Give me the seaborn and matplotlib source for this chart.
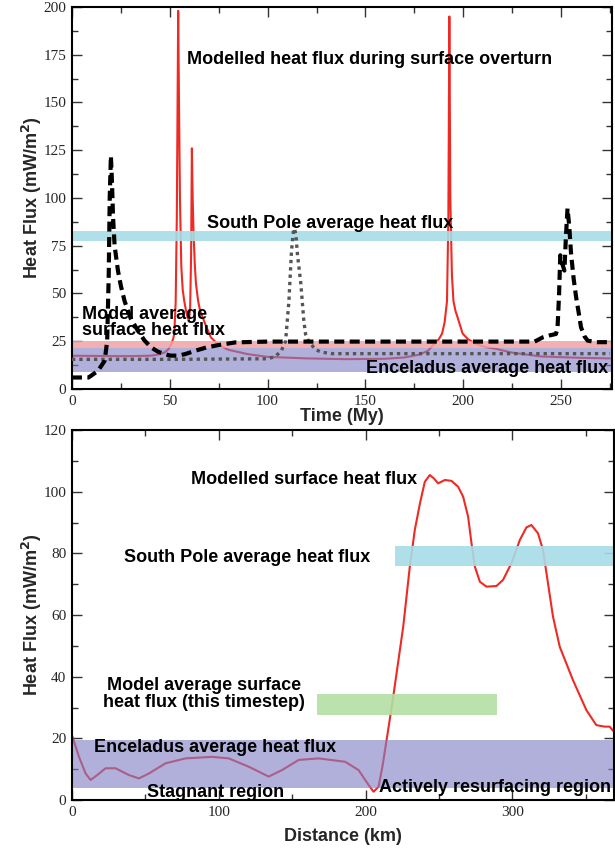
import matplotlib
matplotlib.use("Agg")
import matplotlib.pyplot as plt
import seaborn as sns
import numpy as np
import pandas as pd
from matplotlib.ticker import MultipleLocator

# ---------------- data: top panel (time series) ----------------
red_t = [0, 10, 20, 30, 40, 44, 47.4, 49.5, 50.8, 51.8, 52.3, 53, 53.6, 54.3, 54.8, 55.2, 55.9,
         56.6, 57.4, 58.3, 59.1, 59.8, 60.4, 60.9, 61.3, 61.7, 62.2, 62.8, 63.4, 64.5, 65.5, 66.8,
         68.5, 71, 75, 80, 90, 100, 120, 140, 160, 170, 177.6, 182, 185.2, 187.5, 189.2, 190.5,
         191.7, 192.4, 192.9, 193.4, 194.2, 195, 196, 197.1, 199.7, 202.5, 206.5, 211, 216.8,
         225, 240, 260, 275]
red_q = [17.4, 17.3, 17.2, 17.2, 17.4, 18, 19.1, 21, 23.6, 26.5, 29, 45, 90, 198, 140, 100, 64,
         52, 46, 41, 37.5, 36, 42, 70, 126, 100, 80, 65, 55, 46, 41, 37.5,
         33, 27, 23, 20.5, 18.2, 16.8, 16, 15.6, 15.8, 16.5, 18, 20, 23.6, 26, 29, 35,
         46, 90, 195, 100, 60, 46, 41, 37.5, 29, 26, 23.6, 22, 21,
         19, 17, 16.3, 16]

dash_t = [0, 8.5, 13.3, 16.7, 18.0, 18.8, 19.3, 19.9, 20.4, 21, 21.8, 23.5, 25, 26.9, 30, 33.7,
          37, 40.5, 44, 47.3, 50, 54.2, 58, 63, 68.6, 75, 83.6, 100, 150, 200, 236.5, 240.6, 244,
          247.4, 248.2, 249, 249.6, 250.5, 251.7, 252.5, 253.3, 254.2, 255.1, 256.4, 257.7, 259,
          260.2, 262, 263.6, 268, 275]
dash_q = [6, 6, 9.5, 14.7, 25, 60, 100, 122, 110, 90, 75, 62, 54, 46, 37, 30.5,
          25.5, 21.7, 19.5, 18.3, 17.5, 17.4, 18.3, 20, 21.7, 23, 24.4, 24.8, 24.8, 24.8, 24.8, 27, 28,
          28.8, 32, 50, 70, 66, 62, 80, 94.5, 85, 71, 58, 48, 40,
          32.3, 27.5, 25.3, 24.5, 24.5]

dot_t = [0, 50, 100, 104, 107, 109.2, 110.9, 112.2, 113.5, 114.5, 115.3, 116, 117, 117.7, 118.5,
         119.4, 121, 124.5, 128, 132.8, 150, 200, 275]
dot_q = [15.5, 15.5, 15.8, 17, 20, 25, 46, 72, 86, 80, 70, 64, 55, 46, 36,
         28.7, 25, 20.5, 19.2, 18.5, 18.5, 18.5, 18.5]

# ---------------- data: bottom panel (profile) ----------------
dist_km = [0, 4.8, 9.3, 12.7, 17.2, 22.9, 29.7, 38.8, 45.6, 52.4, 63.7, 77.3, 95.4, 106.8, 120.4,
           134, 143, 154.4, 168, 186.1, 195.2, 202, 205.4, 208.8, 211.5, 214.3, 218.8, 225.6,
           230.1, 233.5, 237, 240.3, 243.7, 246.5, 249.4, 254, 258.5, 263, 266.4, 269.8, 272.1,
           274.4, 277.8, 282.3, 289.1, 293.6, 299.3, 305, 309.5, 312.9, 317.4, 320.8, 324.2,
           327.6, 332.2, 341.2, 350.3, 357.1, 362.8, 366.2, 369]
surf_q = [21, 14, 8.6, 6.5, 8.1, 10.3, 10.3, 8.1, 7.0, 8.6, 11.9, 13.5, 14.0, 13.5, 10.8,
          7.6, 9.7, 13, 13.5, 12.4, 9.7, 4.9, 2.7, 4.3, 11, 19.5, 33.5, 56.2,
          75.7, 87.6, 96.2, 103.2, 105.4, 104.3, 102.7, 103.8, 103.5, 101.6, 98.4, 91.9, 83.3,
          75.7, 70.8, 69.2, 69.4, 71.4, 76.8, 84.3, 88.4, 89.2, 86.5, 81.1, 70.3,
          59.5, 49.7, 38.9, 29.2, 24.3, 23.8, 23.8, 22.2]

# reference bands (lower, upper)
top_southpole = (77.5, 82.5)
top_model_avg = (21.7, 25.0)
top_enceladus = (9.0, 21.7)
bot_southpole = (76.0, 82.5)
bot_southpole_x = (220, 369)
bot_model_avg = (27.6, 34.4)
bot_model_avg_x = (166.7, 289.5)
bot_enceladus = (4.0, 19.5)

# ---------------- styling ----------------
sns.set_theme(style="ticks")
plt.rcParams['font.family'] = ['Liberation Sans', 'DejaVu Sans']

RED = '#ee2a24'
CYAN = '#a6dde7'
PINK = '#f2a3a6'
PURPLE = '#8080c4'
GREEN = '#b4dea4'

fig = plt.figure(figsize=(6.15, 8.5), dpi=100)
fig.patch.set_facecolor('white')

ax1 = fig.add_axes([0.117, 0.5424, 0.878, 0.4494])
ax2 = fig.add_axes([0.117, 0.0588, 0.881, 0.4353])

df_red = pd.DataFrame({'t': red_t, 'q': red_q})
df_dash = pd.DataFrame({'t': dash_t, 'q': dash_q})
df_dot = pd.DataFrame({'t': dot_t, 'q': dot_q})
df_surf = pd.DataFrame({'d': dist_km, 'q': surf_q})

# --- top panel ---
sns.lineplot(data=df_red, x='t', y='q', ax=ax1, color=RED, lw=1.5, zorder=2)
ax1.axhspan(*top_southpole, color=CYAN, alpha=0.9, lw=0, zorder=2.5)
ax1.axhspan(*top_model_avg, color=PINK, alpha=0.85, lw=0, zorder=2.5)
ax1.axhspan(*top_enceladus, color=PURPLE, alpha=0.62, lw=0, zorder=2.5)
sns.lineplot(data=df_dot, x='t', y='q', ax=ax1, color='#555555', lw=2.4, zorder=3,
             linestyle=(0, (1, 1.2)))
sns.lineplot(data=df_dash, x='t', y='q', ax=ax1, color='black', lw=3, zorder=3.2,
             linestyle=(0, (2.4, 1.3)))

txt_kw = dict(fontsize=13, fontweight='bold', color='black', zorder=5)
ax1.text(152, 172.5, 'Modelled heat flux during surface overturn', ha='center', va='center', **txt_kw)
ax1.text(132, 86.8, 'South Pole average heat flux', ha='center', va='center', **txt_kw)
ax1.text(5, 34.8, 'Model average\nsurface heat flux', ha='left', va='center', linespacing=0.95, **txt_kw)
ax1.text(274, 10.5, 'Enceladus average heat flux', ha='right', va='center', **txt_kw)

ax1.set_xlim(0, 276)
ax1.set_ylim(0, 200)
ax1.xaxis.set_major_locator(MultipleLocator(50))
ax1.xaxis.set_minor_locator(MultipleLocator(25))
ax1.yaxis.set_major_locator(MultipleLocator(25))
ax1.yaxis.set_minor_locator(MultipleLocator(12.5))
ax1.set_xlabel('Time (My)', fontsize=13, fontweight='bold', labelpad=0)
ax1.set_ylabel('Heat Flux (mW/m$^\\mathbf{2}$)', fontsize=13, fontweight='bold', labelpad=0)

# --- bottom panel ---
sns.lineplot(data=df_surf, x='d', y='q', ax=ax2, color=RED, lw=1.5, zorder=2)
ax2.fill_between(bot_southpole_x, bot_southpole[0], bot_southpole[1], color=CYAN, alpha=0.9, lw=0, zorder=2.5)
ax2.fill_between(bot_model_avg_x, bot_model_avg[0], bot_model_avg[1], color=GREEN, alpha=0.9, lw=0, zorder=2.5)
ax2.axhspan(*bot_enceladus, color=PURPLE, alpha=0.62, lw=0, zorder=2.5)

ax2.text(158, 103.8, 'Modelled surface heat flux', ha='center', va='center', **txt_kw)
ax2.text(119, 78.5, 'South Pole average heat flux', ha='center', va='center', **txt_kw)
ax2.text(90, 34.4, 'Model average surface\nheat flux (this timestep)', ha='center', va='center',
         linespacing=1.0, **txt_kw)
ax2.text(97.5, 16.9, 'Enceladus average heat flux', ha='center', va='center', **txt_kw)
ax2.text(98, 2.4, 'Stagnant region', ha='center', va='center', **txt_kw)
ax2.text(288, 3.9, 'Actively resurfacing region', ha='center', va='center', **txt_kw)

ax2.set_xlim(0, 369)
ax2.set_ylim(0, 120)
ax2.xaxis.set_major_locator(MultipleLocator(100))
ax2.xaxis.set_minor_locator(MultipleLocator(50))
ax2.yaxis.set_major_locator(MultipleLocator(20))
ax2.yaxis.set_minor_locator(MultipleLocator(10))
ax2.set_xlabel('Distance (km)', fontsize=13, fontweight='bold', labelpad=7)
ax2.set_ylabel('Heat Flux (mW/m$^\\mathbf{2}$)', fontsize=13, fontweight='bold', labelpad=0)

for ax in (ax1, ax2):
    ax.set_facecolor('white')
    for s in ax.spines.values():
        s.set_linewidth(1.5)
        s.set_color('black')
        s.set_visible(True)
    ax.tick_params(which='both', direction='in', top=True, right=True, color='#333333')
    ax.tick_params(which='major', length=7, width=1.0)
    ax.tick_params(which='minor', length=4, width=1.0)
    ax.tick_params(which='both', labelsize=11, pad=4)
    for lab in ax.get_xticklabels() + ax.get_yticklabels():
        lab.set_family(['Liberation Serif', 'DejaVu Serif'])
    if ax.get_legend() is not None:
        ax.get_legend().remove()

fig.savefig('out.png', dpi=100, facecolor='white')
